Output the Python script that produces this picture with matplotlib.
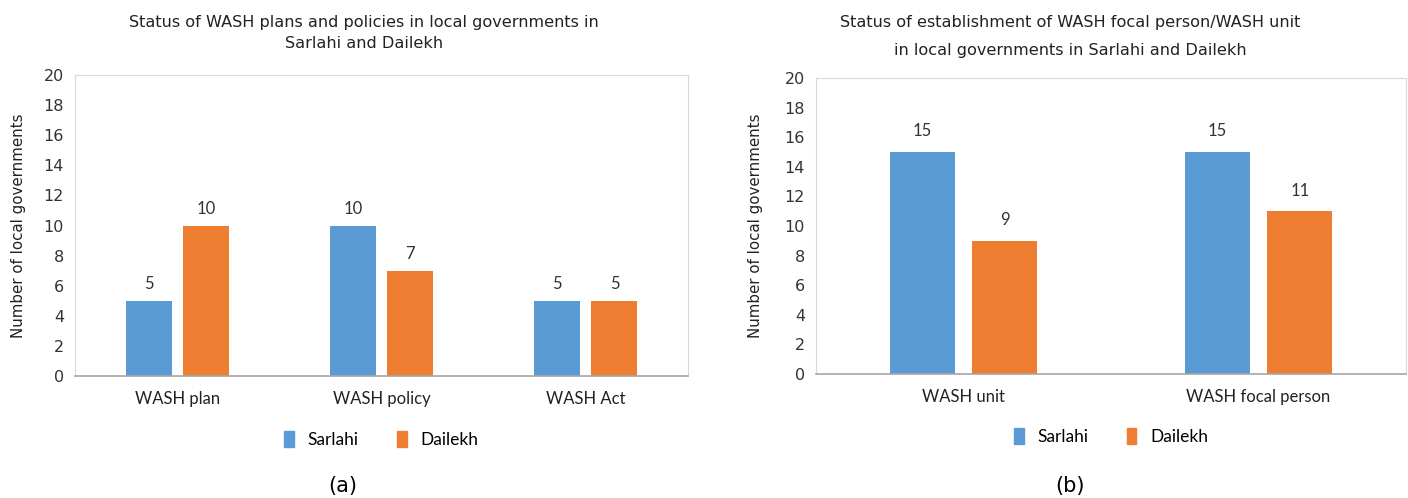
import matplotlib
matplotlib.use("Agg")
import matplotlib.pyplot as plt
import numpy as np
from matplotlib.patches import Patch

plt.rcParams['font.family'] = ['DejaVu Sans']
NARROW = ['Lato', 'DejaVu Sans']

series = ["Sarlahi", "Dailekh"]
colors = ["#5B9BD5", "#ED7D31"]

cats_a = ["WASH plan", "WASH policy", "WASH Act"]
sarlahi_a = [5, 10, 5]
dailekh_a = [10, 7, 5]

cats_b = ["WASH unit", "WASH focal person"]
sarlahi_b = [15, 15]
dailekh_b = [9, 11]

title_a = "Status of WASH plans and policies in local governments in\nSarlahi and Dailekh"
title_b = "Status of establishment of WASH focal person/WASH unit\nin local governments in Sarlahi and Dailekh"

W, H = 1408, 498
fig = plt.figure(figsize=(W / 100, H / 100), dpi=100)


def panel(rect, cats, vals1, vals2, width, offset, ylab_x, lab_off):
    ax = fig.add_axes(rect)
    x = np.arange(len(cats))
    for i, vals in enumerate([vals1, vals2]):
        pos = x + (offset if i else -offset)
        ax.bar(pos, vals, width, color=colors[i])
        for p, v in zip(pos, vals):
            ax.text(p, v + lab_off, str(v), ha="center", va="bottom", fontsize=12,
                    color="#333333", family=NARROW)
    ax.set_xlim(-0.5, len(cats) - 0.5)
    ax.set_ylim(0, 20)
    ax.set_yticks(range(0, 21, 2))
    ax.set_xticks(x)
    ax.set_xticklabels(cats, fontsize=12, color="#222222", family=NARROW)
    ax.tick_params(axis="y", length=0, labelsize=11.5, labelcolor="#333333", pad=8)
    ax.tick_params(axis="x", length=0, pad=11)
    for s in ["top", "right", "left"]:
        ax.spines[s].set_color("#D9D9D9")
    ax.spines["bottom"].set_color("#A6A6A6")
    ax.spines["bottom"].set_linewidth(1.2)
    ax.set_ylabel("Number of local governments", fontsize=10.8, color="#222222")
    ax.yaxis.set_label_coords(ylab_x, 0.5)
    handles = [Patch(color=c, label=s) for c, s in zip(colors, series)]
    ax.legend(handles=handles, loc="center", bbox_to_anchor=(0.5, -0.21), ncol=2,
              frameon=False, prop={"family": NARROW, "size": 12.5}, handlelength=0.55,
              handleheight=1.1, columnspacing=2.2, handletextpad=0.8)
    return ax


panel([75 / W, 122 / H, 613 / W, 301 / H], cats_a, sarlahi_a, dailekh_a,
      0.225, 0.14, -0.08, 0.55)
panel([816 / W, 124 / H, 590 / W, 296 / H], cats_b, sarlahi_b, dailekh_b,
      0.22, 0.14, -0.09, 0.85)

# titles
fig.text(364 / W, 1 - 22 / H, title_a.split("\n")[0], ha="center", va="center",
         fontsize=11.6, color="#222222")
fig.text(364 / W, 1 - 44 / H, title_a.split("\n")[1], ha="center", va="center",
         fontsize=11.6, color="#222222")
fig.text(1070 / W, 1 - 22 / H, title_b.split("\n")[0], ha="center", va="center",
         fontsize=11.6, color="#222222")
fig.text(1070 / W, 1 - 50 / H, title_b.split("\n")[1], ha="center", va="center",
         fontsize=11.6, color="#222222")

# panel letters
fig.text(343 / W, 1 - 486 / H, "(a)", ha="center", va="center", fontsize=15)
fig.text(1070 / W, 1 - 486 / H, "(b)", ha="center", va="center", fontsize=15)

fig.savefig("out.png", dpi=100)
